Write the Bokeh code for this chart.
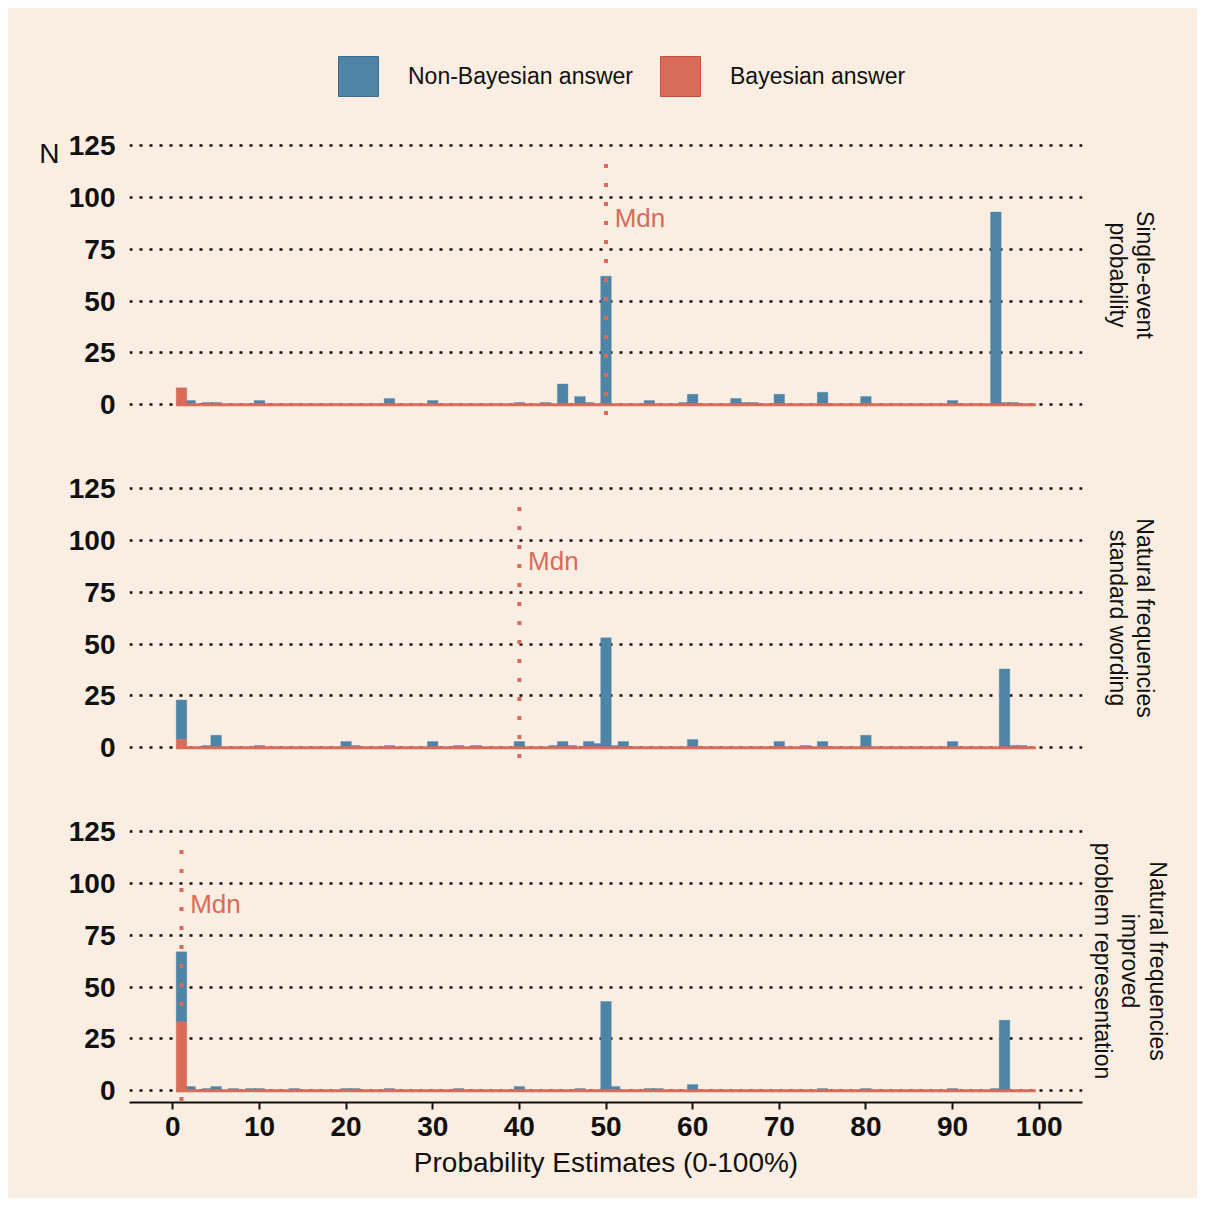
from bokeh.plotting import figure
from bokeh.models import Range1d, FixedTicker, Legend, LegendItem, LinearAxis
from bokeh.layouts import column
from bokeh.embed import file_html
from bokeh.resources import INLINE
from bokeh.core.properties import value

# ---------------- data ----------------
panel_titles = [
    "Single-event\nprobability",
    "Natural frequencies\nstandard wording",
    "Natural frequencies\nimproved\nproblem representation",
]
x_ticks = [0, 10, 20, 30, 40, 50, 60, 70, 80, 90, 100]
y_ticks = [0, 25, 50, 75, 100, 125]
medians = [50, 40, 1]
response_min = 1
response_max = 99

p1_values = [1, 2, 4, 5, 10, 25, 30, 40, 43, 45, 47, 48, 50, 55, 59, 60, 65, 66, 67, 70, 75, 80, 90, 95, 96, 97]
p1_nonbayes = [0, 2, 1, 1, 2, 3, 2, 1, 1, 10, 4, 1, 62, 2, 1, 5, 3, 1, 1, 5, 6, 4, 2, 93, 1, 1]
p1_bayes = [8, 0, 0, 0, 0, 0, 0, 0, 0, 0, 0, 0, 0, 0, 0, 0, 0, 0, 0, 0, 0, 0, 0, 0, 0, 0]

p2_values = [1, 4, 5, 10, 20, 21, 25, 30, 33, 35, 40, 44, 45, 46, 48, 49, 50, 51, 52, 60, 70, 73, 75, 80, 90, 96, 97, 98]
p2_nonbayes = [19, 1, 6, 1, 3, 1, 1, 3, 1, 1, 3, 1, 3, 1, 3, 2, 53, 1, 3, 4, 3, 1, 3, 6, 3, 38, 1, 1]
p2_bayes = [4, 0, 0, 0, 0, 0, 0, 0, 0, 0, 0, 0, 0, 0, 0, 0, 0, 0, 0, 0, 0, 0, 0, 0, 0, 0, 0, 0]

p3_values = [1, 2, 4, 5, 7, 9, 10, 14, 20, 21, 25, 33, 40, 47, 50, 51, 55, 56, 60, 75, 80, 90, 95, 96]
p3_nonbayes = [34, 2, 1, 2, 1, 1, 1, 1, 1, 1, 1, 1, 2, 1, 43, 2, 1, 1, 3, 1, 1, 1, 1, 34]
p3_bayes = [33, 0, 0, 0, 0, 0, 0, 0, 0, 0, 0, 0, 0, 0, 0, 0, 0, 0, 0, 0, 0, 0, 0, 0]

legend_labels = ["Non-Bayesian answer", "Bayesian answer"]

# ---------------- style ----------------
BG = "#FAEEE2"
BLUE = "#4E84A6"
RED = "#D86B5A"
INK = "#111111"
FONT = "Liberation Sans"
BAR_W = 1.22
W = 1189

x_range = Range1d(-5, 105)


def make_panel(title, values, nonbayes, bayes, med, height, bottom_border,
               show_x, show_n, strip_standoff):
    p = figure(
        width=W, height=height,
        x_range=x_range, y_range=Range1d(-5.7, 130.88),
        output_backend="svg", toolbar_location=None,
        x_axis_location="below" if show_x else None,
        min_border_left=121, min_border_right=115,
        min_border_top=30, min_border_bottom=bottom_border,
        background_fill_color=BG, border_fill_color=BG,
        outline_line_color=None,
    )
    # grid
    p.xgrid.grid_line_color = None
    p.ygrid.ticker = FixedTicker(ticks=y_ticks)
    p.ygrid.grid_line_color = INK
    p.ygrid.grid_line_width = 2.5
    p.ygrid.grid_line_dash = "3 7"
    # y axis
    p.yaxis.ticker = FixedTicker(ticks=y_ticks)
    p.yaxis.axis_line_color = None
    p.yaxis.major_tick_line_color = None
    p.yaxis.minor_tick_line_color = None
    p.yaxis.major_tick_out = 0
    p.yaxis.major_tick_in = 0
    p.yaxis.major_label_standoff = 14
    p.yaxis.major_label_text_font = FONT
    p.yaxis.major_label_text_font_size = "28px"
    p.yaxis.major_label_text_font_style = "bold"
    p.yaxis.major_label_text_color = INK
    if show_x:
        p.xaxis.ticker = FixedTicker(ticks=x_ticks)
        p.xaxis.axis_line_color = INK
        p.xaxis.axis_line_width = 2
        p.xaxis.major_tick_line_color = INK
        p.xaxis.major_tick_line_width = 2
        p.xaxis.major_tick_out = 7
        p.xaxis.major_tick_in = 0
        p.xaxis.minor_tick_line_color = None
        p.xaxis.major_label_standoff = 7
        p.xaxis.major_label_text_font = FONT
        p.xaxis.major_label_text_font_size = "28px"
        p.xaxis.major_label_text_font_style = "bold"
        p.xaxis.major_label_text_color = INK
        p.xaxis.axis_label = "Probability Estimates (0-100%)"
        p.xaxis.axis_label_text_font = FONT
        p.xaxis.axis_label_text_font_size = "28px"
        p.xaxis.axis_label_text_font_style = "normal"
        p.xaxis.axis_label_text_color = INK
        p.xaxis.axis_label_standoff = 8

    tops = [b + n for b, n in zip(bayes, nonbayes)]
    p.vbar(x=values, bottom=bayes, top=tops, width=BAR_W,
           fill_color=BLUE, line_color=BLUE, line_alpha=0.35, line_width=1)
    p.vbar(x=values, bottom=0, top=bayes, width=BAR_W,
           fill_color=RED, line_color=RED, line_alpha=0.35, line_width=1)
    # zero-count baseline across the response scale
    p.segment(x0=[response_min - BAR_W / 2], y0=[0], x1=[response_max + BAR_W / 2], y1=[0],
              line_color=RED, line_width=3)
    # median
    p.segment(x0=[med], y0=[-5], x1=[med], y1=[120],
              line_color=RED, line_width=4, line_dash="4 15")
    p.text(x=[med + 1], y=[90], text=["Mdn"], text_font=value(FONT),
           text_font_size="26px", text_color=RED, text_align="left",
           text_baseline="middle")

    # facet strip label (right side)
    strip = LinearAxis(ticker=FixedTicker(ticks=[]), axis_line_color=None,
                       major_tick_line_color=None, minor_tick_line_color=None,
                       major_tick_out=0, major_tick_in=0, major_label_standoff=0,
                       axis_label=title, axis_label_standoff=strip_standoff,
                       axis_label_text_font=FONT, axis_label_text_font_size="23px",
                       axis_label_text_font_style="normal",
                       axis_label_text_line_height=1.07,
                       axis_label_text_color=INK)
    p.add_layout(strip, "right")

    if show_n:
        n_axis = LinearAxis(ticker=FixedTicker(ticks=[121]),
                            major_label_overrides={121: "N"},
                            axis_line_color=None, major_tick_line_color=None,
                            minor_tick_line_color=None, major_tick_out=0,
                            major_tick_in=0, major_label_standoff=6,
                            major_label_text_font=FONT,
                            major_label_text_font_size="28px",
                            major_label_text_font_style="normal",
                            major_label_text_color=INK)
        p.add_layout(n_axis, "left")
    return p


# legend strip at the top
lf = figure(width=W, height=95, x_axis_location=None, y_axis_location=None,
            x_range=Range1d(0, 1), y_range=Range1d(0, 1),
            toolbar_location=None, output_backend="svg", min_border=0,
            background_fill_color=BG, border_fill_color=BG, outline_line_color=None)
lf.grid.visible = False
r_nb = lf.vbar(x=[-10], top=[0], width=0.1, fill_color=BLUE, line_color="#3C6C8C", line_width=1)
r_b = lf.vbar(x=[-10], top=[0], width=0.1, fill_color=RED, line_color="#C4503F", line_width=1)
legend = Legend(
    items=[LegendItem(label=legend_labels[0], renderers=[r_nb]),
           LegendItem(label=legend_labels[1], renderers=[r_b])],
    orientation="horizontal", location=(204, 2),
    glyph_width=50, glyph_height=50, label_standoff=25, spacing=22,
    padding=0, margin=0, border_line_color=None, background_fill_alpha=0,
    label_text_font=FONT, label_text_font_size="23px", label_text_color=INK,
)
lf.add_layout(legend)

p1 = make_panel(panel_titles[0], p1_values, p1_nonbayes, p1_bayes, medians[0], 343, 30, False, True, 22)
p2 = make_panel(panel_titles[1], p2_values, p2_nonbayes, p2_bayes, medians[1], 343, 30, False, False, 22)
p3 = make_panel(panel_titles[2], p3_values, p3_nonbayes, p3_bayes, medians[2], 409, 96, True, False, 7)

layout = column(lf, p1, p2, p3, spacing=0, margin=(8, 0, 0, 8),
                styles={"background-color": BG})
open("out.html", "w").write(file_html(layout, INLINE))
